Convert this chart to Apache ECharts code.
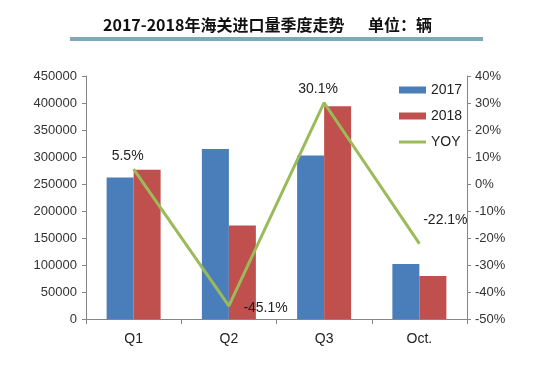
<!DOCTYPE html>
<html><head><meta charset="utf-8">
<script src="https://cdn.jsdelivr.net/npm/echarts@6/dist/echarts.min.js"></script>
<style>html,body{margin:0;padding:0;background:#fff}#c{width:550px;height:366px}</style>
</head><body><div id="c"></div>
<script>
const categories = ['Q1', 'Q2', 'Q3', 'Oct.'];
const s2017 = [262000, 315000, 303000, 102000];
const s2018 = [276400, 173000, 394000, 79500];
const yoy = [5.5, -45.1, 30.1, -22.1];
const yoyLabelPos = ['top', 'right', 'top', 'top'];

const chart = echarts.init(document.getElementById('c'));
const fam = 'Liberation Sans, Arial, sans-serif';
const axisFont = {fontFamily: fam, fontSize: 13, color: '#333'};
const titleStyle = {fontFamily: 'Noto Sans CJK SC', fontSize: 16, fontWeight: 'bold', fill: '#111'};
chart.setOption({
  animation: false,
  graphic: [
    {type: 'text', left: 103, top: 17, style: Object.assign({text: '2017-2018年海关进口量季度走势'}, titleStyle)},
    {type: 'text', left: 368, top: 17, style: Object.assign({text: '单位：辆'}, titleStyle)},
    {type: 'rect', shape: {x: 70, y: 37, width: 413, height: 4}, style: {fill: '#7fa9b8'}}
  ],
  legend: {
    orient: 'vertical', left: 394, top: 78, itemGap: 12, itemWidth: 27, itemHeight: 7,
    textStyle: {fontFamily: fam, fontSize: 14, color: '#222'},
    data: [{name: '2017', icon: 'rect'}, {name: '2018', icon: 'rect'},
           {name: 'YOY', icon: 'path://M0,0 L27,0 L27,3 L0,3 Z'}]
  },
  grid: {left: 86, right: 83, top: 76, bottom: 47},
  xAxis: {
    type: 'category', data: categories,
    axisLine: {lineStyle: {color: '#868686'}},
    axisTick: {show: true, length: 5, lineStyle: {color: '#868686'}},
    axisLabel: {margin: 13, fontSize: 14, fontFamily: fam, color: '#222'}
  },
  yAxis: [{
    type: 'value', min: 0, max: 450000, interval: 50000,
    axisLine: {show: true, lineStyle: {color: '#868686'}},
    axisTick: {show: true, length: 4, lineStyle: {color: '#868686'}},
    splitLine: {show: false},
    axisLabel: Object.assign({margin: 9, formatter: v => String(v)}, axisFont)
  }, {
    type: 'value', min: -50, max: 40, interval: 10,
    axisLine: {show: true, lineStyle: {color: '#868686'}},
    axisTick: {show: true, length: 4, lineStyle: {color: '#868686'}},
    splitLine: {show: false},
    axisLabel: Object.assign({margin: 8, formatter: '{value}%'}, axisFont)
  }],
  series: [{
    name: '2017', type: 'bar', data: s2017, barWidth: 27, barGap: '0%',
    itemStyle: {color: '#4a7ebb'}
  }, {
    name: '2018', type: 'bar', data: s2018, barWidth: 27, barGap: '0%',
    itemStyle: {color: '#c0504d'}
  }, {
    name: 'YOY', type: 'line', yAxisIndex: 1, symbol: 'circle', symbolSize: 1, showSymbol: true,
    lineStyle: {color: '#9bbb59', width: 3}, itemStyle: {color: '#9bbb59'},
    data: yoy.map((v, i) => ({
      value: v,
      label: {show: true, position: yoyLabelPos[i], formatter: v.toFixed(1) + '%',
        distance: i === 3 ? 16 : 6, offset: i === 3 ? [26, 0] : (i === 1 ? [8, 2] : [-6, 0]),
        fontFamily: fam, fontSize: 14, color: '#222'}
    }))
  }]
});
</script></body></html>
